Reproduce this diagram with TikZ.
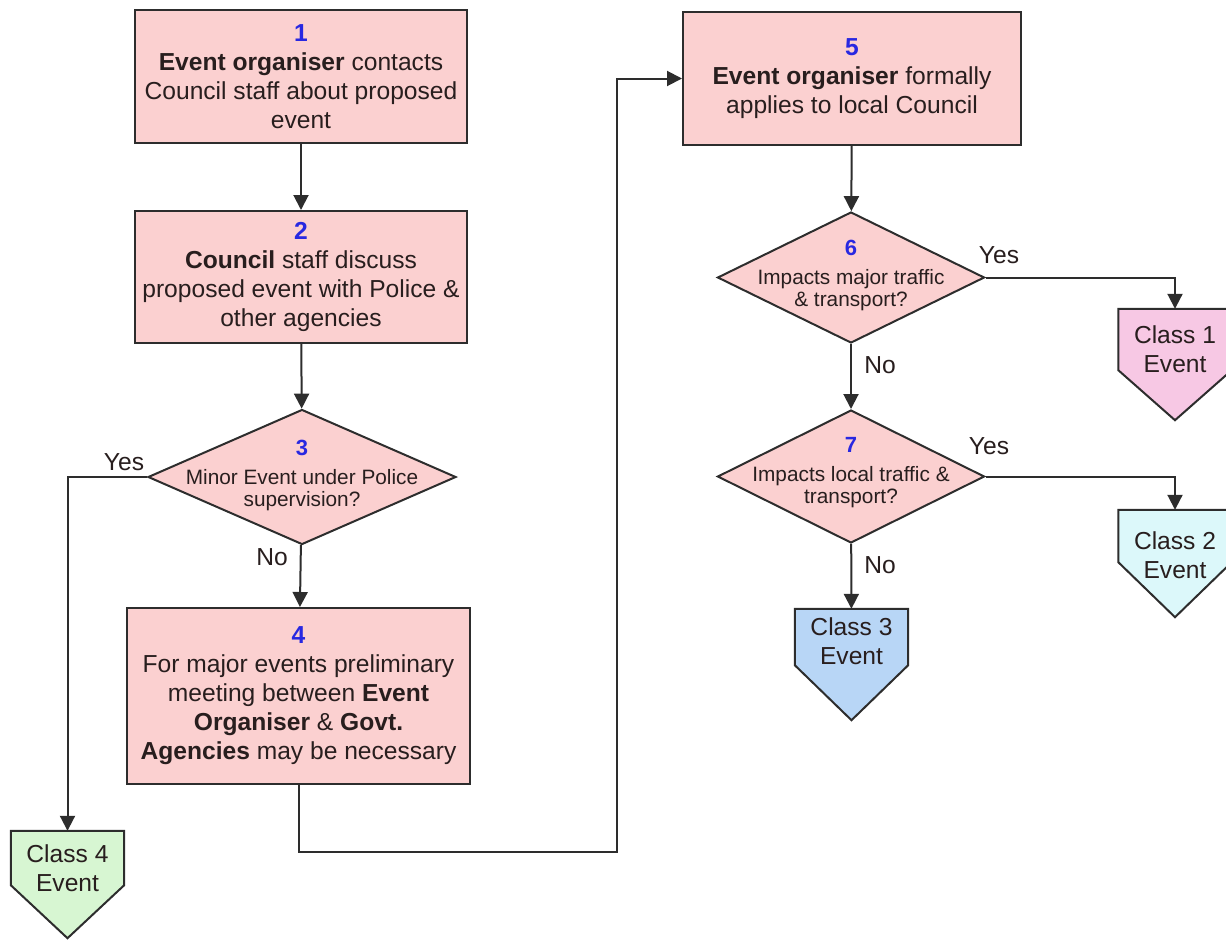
\documentclass[tikz,border=0pt]{standalone}
\usepackage{fontspec}
\setmainfont{Liberation Sans}
\usetikzlibrary{shapes.geometric,arrows.meta,calc}

\definecolor{stepfill}{RGB}{251,208,208}
\definecolor{numblue}{RGB}{40,40,225}
\definecolor{inkcol}{RGB}{40,30,30}
\definecolor{lineco}{RGB}{45,45,45}
\definecolor{cone}{RGB}{247,200,228}
\definecolor{ctwo}{RGB}{220,248,250}
\definecolor{cthree}{RGB}{184,214,246}
\definecolor{cfour}{RGB}{215,246,210}

\newcommand{\stepnum}[1]{{\bfseries\color{numblue}#1}}

\begin{document}
\begin{tikzpicture}[x=1pt,y=-1pt,
  stepbox/.style={draw=lineco, line width=2pt, fill=stepfill, rectangle,
    inner sep=0pt, align=center, text=inkcol,
    font=\fontsize{24.6}{29}\selectfont},
  decision/.style={draw=lineco, line width=2pt, fill=stepfill, diamond,
    inner sep=0pt},
  dectext/.style={align=center, text=inkcol, inner sep=0pt,
    font=\fontsize{20.8}{22}\selectfont},
  classrect/.style={rectangle, inner sep=0pt, minimum width=113pt},
  classline/.style={draw=lineco, line width=2pt},
  classtext/.style={align=center, text=inkcol, inner sep=0pt,
    font=\fontsize{24.6}{29}\selectfont},
  lbl/.style={text=inkcol, inner sep=0pt, font=\fontsize{24.6}{29}\selectfont},
  arr/.style={draw=lineco, line width=2pt, -{Triangle[length=15pt,width=15pt]}},
  conn/.style={draw=lineco, line width=2pt}
]
\useasboundingbox (0,0) rectangle (1226,940);

% ---- left column: steps 1 to 4 ----
\node[stepbox, minimum width=332pt, minimum height=133pt] (b1) at (301,76.5)
  {\stepnum{1}\\ \textbf{Event organiser} contacts\\ Council staff about proposed\\ event};
\node[stepbox, minimum width=332pt, minimum height=132pt] (b2) at (301,277)
  {\stepnum{2}\\ \textbf{Council} staff discuss\\ proposed event with Police \&\\ other agencies};
\node[decision, minimum width=308pt, minimum height=135pt] (d3) at (302,477) {};
\node[dectext] (d3t) at (302,475)
  {{\fontsize{22}{22}\selectfont\stepnum{3}}\\[7pt] Minor Event under Police\\ supervision?};
\node[stepbox, minimum width=343pt, minimum height=176pt] (b4) at (298.5,696)
  {\stepnum{4}\\ For major events preliminary\\ meeting between \textbf{Event}\\
   \textbf{Organiser} \& \textbf{Govt.}\\ \textbf{Agencies} may be necessary};

% ---- right column: steps 5 to 7 ----
\node[stepbox, minimum width=338pt, minimum height=133pt] (b5) at (852,78.5)
  {\stepnum{5}\\ \textbf{Event organiser} formally\\ applies to local Council};
\node[decision, minimum width=267pt, minimum height=131pt] (d6) at (851,277.5) {};
\node[dectext] (d6t) at (851,275)
  {{\fontsize{22}{22}\selectfont\stepnum{6}}\\[7pt] Impacts major traffic\\ \& transport?};
\node[decision, minimum width=267pt, minimum height=133pt] (d7) at (851,476.5) {};
\node[dectext] (d7t) at (851,473)
  {{\fontsize{22}{22}\selectfont\stepnum{7}}\\[7pt] Impacts local traffic \&\\ transport?};

% ---- event classes (pentagon markers) ----
\node[classrect, minimum height=61pt] (c1) at (1175,339.5) {};
\draw[classline, fill=cone] (c1.north west) -- (c1.north east) -- (c1.south east)
  -- ($(c1.south)+(0,50)$) -- (c1.south west) -- cycle;
\node[classtext] (c1t) at (1175,349) {Class 1\\ Event};

\node[classrect, minimum height=52pt] (c2) at (1175,536) {};
\draw[classline, fill=ctwo] (c2.north west) -- (c2.north east) -- (c2.south east)
  -- ($(c2.south)+(0,55)$) -- (c2.south west) -- cycle;
\node[classtext] (c2t) at (1175,555) {Class 2\\ Event};

\node[classrect, minimum height=56pt] (c3) at (851.5,637) {};
\draw[classline, fill=cthree] (c3.north west) -- (c3.north east) -- (c3.south east)
  -- ($(c3.south)+(0,55)$) -- (c3.south west) -- cycle;
\node[classtext] (c3t) at (851.5,641) {Class 3\\ Event};

\node[classrect, minimum height=54pt] (c4) at (67.5,858) {};
\draw[classline, fill=cfour] (c4.north west) -- (c4.north east) -- (c4.south east)
  -- ($(c4.south)+(0,53)$) -- (c4.south west) -- cycle;
\node[classtext] (c4t) at (67.5,868) {Class 4\\ Event};

% ---- connectors ----
\coordinate (turn45) at (617,852);
\draw[arr] (b1) -- (b2);
\draw[arr] (b2) -- (d3);
\draw[arr] (d3) -- (b4);
\draw[arr] (d3.west) -| (c4.north);
\draw[arr] (b4.south) |- (turn45) |- (b5.west);
\draw[arr] (b5) -- (d6);
\draw[arr] (d6) -- (d7);
\draw[arr] (d6.east) -| (c1.north);
\draw[arr] (d7.east) -| (c2.north);
\draw[arr] (d7) -- (c3);

% ---- branch labels ----
\node[lbl] (y3) at (124,462) {Yes};
\node[lbl] (n3) at (272,557) {No};
\node[lbl] (y6) at (999,255) {Yes};
\node[lbl] (n6) at (880,365) {No};
\node[lbl] (y7) at (989,446) {Yes};
\node[lbl] (n7) at (880,565) {No};
\end{tikzpicture}
\end{document}
